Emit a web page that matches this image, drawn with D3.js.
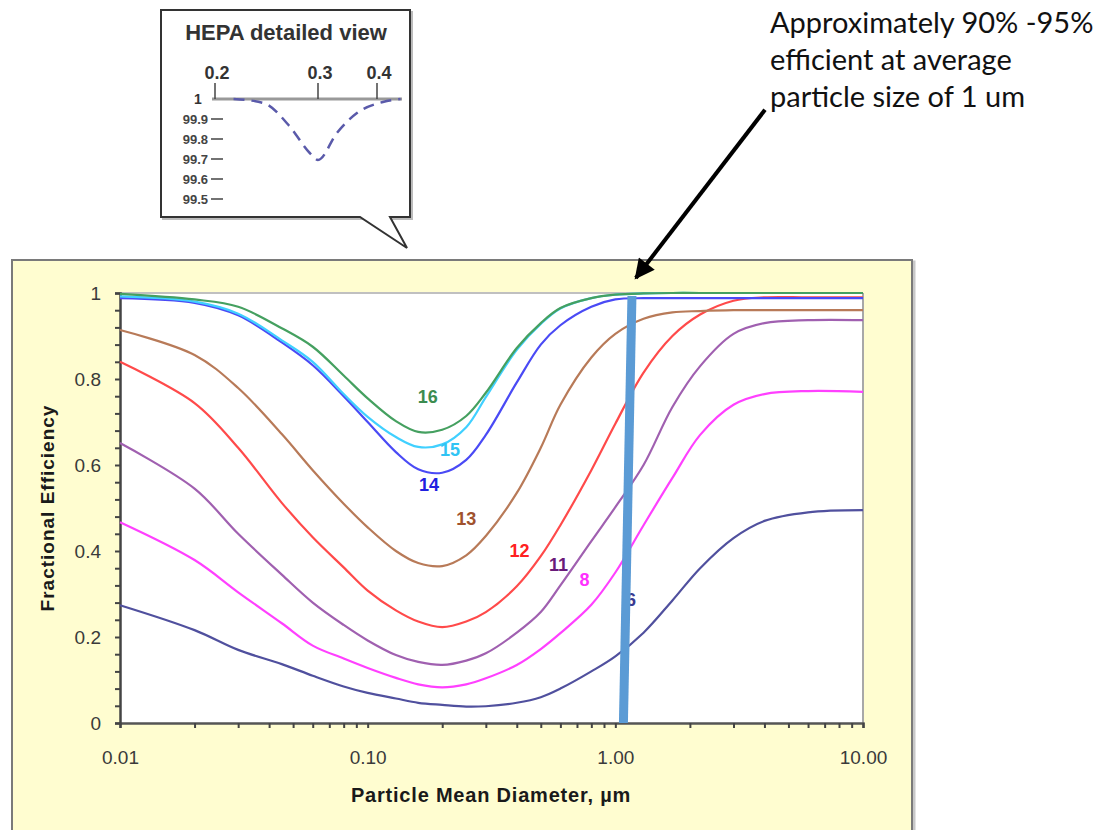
<!DOCTYPE html>
<html>
<head>
<meta charset="utf-8">
<script src="https://cdn.jsdelivr.net/npm/d3@7"></script>
<style>
  body { margin: 0; background: #ffffff; }
  svg  { display: block; }
  .tick text { font-family: Arial, "Liberation Sans", sans-serif; fill: #3a3a3a; }
</style>
</head>
<body>
<div id="graph"></div>
<script>
//
// Data
//
var diameters = [0.01, 0.02, 0.03, 0.045, 0.06, 0.08, 0.1, 0.13, 0.16, 0.2, 0.25, 0.3,
                 0.4, 0.5, 0.6, 0.8, 1.0, 1.3, 1.7, 2.2, 3, 4, 6, 10];

var merv16 = [0.998, 0.985, 0.968, 0.918, 0.875, 0.808, 0.755, 0.702, 0.677, 0.682, 0.714, 0.768,
              0.872, 0.930, 0.965, 0.988, 0.996, 0.999, 1.0, 1.0, 1.0, 1.0, 1.0, 1.0];
var merv15 = [0.992, 0.980, 0.952, 0.890, 0.840, 0.765, 0.712, 0.665, 0.642, 0.648, 0.688, 0.758,
              0.868, 0.928, 0.964, 0.988, 0.996, 0.999, 1.0, 1.0, 1.0, 1.0, 1.0, 1.0];
var merv14 = [0.988, 0.977, 0.948, 0.885, 0.832, 0.760, 0.700, 0.630, 0.590, 0.582, 0.612, 0.670,
              0.792, 0.880, 0.925, 0.968, 0.985, 0.988, 0.988, 0.988, 0.988, 0.988, 0.988, 0.988];
var merv13 = [0.914, 0.856, 0.779, 0.672, 0.588, 0.510, 0.455, 0.400, 0.372, 0.365, 0.390, 0.435,
              0.535, 0.640, 0.740, 0.850, 0.905, 0.940, 0.955, 0.958, 0.960, 0.960, 0.960, 0.960];
var merv12 = [0.840, 0.744, 0.640, 0.512, 0.432, 0.362, 0.308, 0.262, 0.236, 0.223, 0.236, 0.258,
              0.318, 0.388, 0.460, 0.588, 0.696, 0.815, 0.900, 0.950, 0.982, 0.990, 0.990, 0.990];
var merv11 = [0.651, 0.545, 0.440, 0.345, 0.280, 0.228, 0.192, 0.158, 0.142, 0.135, 0.145, 0.162,
              0.210, 0.258, 0.320, 0.423, 0.502, 0.600, 0.735, 0.830, 0.905, 0.930, 0.937, 0.937];
var merv8  = [0.467, 0.379, 0.304, 0.232, 0.180, 0.150, 0.128, 0.105, 0.090, 0.083, 0.090, 0.104,
              0.135, 0.172, 0.209, 0.275, 0.350, 0.460, 0.570, 0.670, 0.740, 0.765, 0.772, 0.770];
var merv6  = [0.274, 0.216, 0.170, 0.137, 0.110, 0.085, 0.070, 0.057, 0.047, 0.042, 0.038, 0.039,
              0.047, 0.060, 0.080, 0.120, 0.155, 0.210, 0.285, 0.360, 0.430, 0.470, 0.490, 0.495];

var seriesNames  = ['16', '15', '14', '13', '12', '11', '8', '6'];
var seriesValues = [merv16, merv15, merv14, merv13, merv12, merv11, merv8, merv6];
var lineColours  = ['#45a060', '#40d0ff', '#4a4af5', '#b87a58', '#ff4a4a', '#a060b0', '#ff40ff', '#50509e'];
var labelColours = ['#3c8c50', '#30c4f4', '#2020e0', '#a0522d', '#ff2020', '#6a1b7a', '#ff30ff', '#3a3a90'];
// label anchor points (diameter, efficiency)
var labelAt = [[0.175, 0.745], [0.215, 0.62], [0.177, 0.54], [0.25, 0.46],
               [0.41, 0.385], [0.59, 0.353], [0.75, 0.318], [1.156, 0.272]];

var xTickMajor  = [0.01, 0.1, 1, 10];
var xTickLabels = ['0.01', '0.10', '1.00', '10.00'];
var yTickMajor  = [0, 0.2, 0.4, 0.6, 0.8, 1];
var yTickLabels = ['0', '0.2', '0.4', '0.6', '0.8', '1'];

// HEPA inset
var hepaTicks      = [0.2, 0.3, 0.4];
var hepaTickLabels = ['0.2', '0.3', '0.4'];
var hepaYLabels    = ['99.9', '99.8', '99.7', '99.6', '99.5'];
var hepaYValues    = [99.9, 99.8, 99.7, 99.6, 99.5];
var hepaD   = [0.218, 0.247, 0.273, 0.292, 0.300, 0.332, 0.366, 0.410, 0.440];
var hepaEff = [100.0, 99.98, 99.86, 99.73, 99.695, 99.83, 99.93, 99.985, 100.0];

// overlay annotation
var barPoints   = [[1.078, 0], [1.167, 0.993]];
var arrowPoints = [[4.02, 1.426], [1.21, 1.035]];
var noteLines   = ['Approximately 90% -95%', 'efficient at average', 'particle size of 1 um'];


//
// Layout
//
var W = 1098, H = 830;
var plot = { left: 120, right: 863, top: 293, bottom: 723 };
var fontArial = 'Arial, "Liberation Sans", sans-serif';

var svg = d3.select('div#graph')
            .append('svg')
            .attr('width', W)
            .attr('height', H);

var xScale = d3.scaleLog()
               .domain([0.01, 10])
               .range([plot.left, plot.right]);

var yScale = d3.scaleLinear()
               .domain([0, 1])
               .range([plot.bottom, plot.top]);

// outer yellow panel
svg.append('rect')
   .attr('x', 14).attr('y', 262)
   .attr('width', 900).attr('height', 570)
   .attr('fill', 'none')
   .attr('stroke', '#c8c8c8')
   .attr('stroke-width', 3);

svg.append('rect')
   .attr('x', 12).attr('y', 260)
   .attr('width', 900).attr('height', 572)
   .attr('fill', '#fffdd0')
   .attr('stroke', '#7a7a7a')
   .attr('stroke-width', 2);

// plot area
svg.append('rect')
   .attr('x', plot.left).attr('y', plot.top)
   .attr('width', plot.right - plot.left)
   .attr('height', plot.bottom - plot.top)
   .attr('fill', '#ffffff');

svg.append('line')
   .attr('x1', plot.left).attr('x2', plot.right)
   .attr('y1', plot.top).attr('y2', plot.top)
   .attr('stroke', '#c0c0c0').attr('stroke-width', 2);

svg.append('line')
   .attr('x1', plot.right).attr('x2', plot.right)
   .attr('y1', plot.top).attr('y2', plot.bottom)
   .attr('stroke', '#a8a8a8').attr('stroke-width', 2);

// axes
var xMinor = [];
[0.01, 0.1, 1].forEach(function (p) {
    for (var k = 1; k <= 9; k++) xMinor.push(p * k);
});
xMinor.push(10);

var xAxis = d3.axisBottom(xScale)
              .tickValues(xMinor)
              .tickSize(5)
              .tickPadding(23)
              .tickFormat(function (d) {
                  var i = xTickMajor.findIndex(function (m) { return Math.abs(m - d) < 1e-9; });
                  return i >= 0 ? xTickLabels[i] : '';
              });

var yAxis = d3.axisLeft(yScale)
              .tickValues(d3.range(0, 26).map(function (i) { return i * 0.04; }))
              .tickSize(5)
              .tickPadding(14)
              .tickFormat(function (d) {
                  var i = yTickMajor.findIndex(function (m) { return Math.abs(m - d) < 1e-9; });
                  return i >= 0 ? yTickLabels[i] : '';
              });

var gx = svg.append('g')
            .attr('class', 'x axis')
            .attr('transform', 'translate(0,' + plot.bottom + ')')
            .call(xAxis);
gx.select('.domain').attr('stroke', '#555').attr('stroke-width', 2.5);
gx.selectAll('.tick line').attr('stroke', '#444').attr('stroke-width', 2);
gx.selectAll('.tick text').style('font-size', '19px');

var gy = svg.append('g')
            .attr('class', 'y axis')
            .attr('transform', 'translate(' + plot.left + ',0)')
            .call(yAxis);
gy.select('.domain').attr('stroke', '#444').attr('stroke-width', 2.5);
gy.selectAll('.tick line').attr('stroke', '#444').attr('stroke-width', 2);
gy.selectAll('.tick text').style('font-size', '19px');

// axis titles
svg.append('text')
   .attr('x', 491).attr('y', 802)
   .style('text-anchor', 'middle')
   .style('font-family', fontArial)
   .style('font-weight', 'bold')
   .style('font-size', '20px')
   .style('letter-spacing', '0.8px')
   .attr('fill', '#1a1a1a')
   .text('Particle Mean Diameter, µm');

svg.append('text')
   .attr('transform', 'translate(54,508) rotate(-90)')
   .style('text-anchor', 'middle')
   .style('font-family', fontArial)
   .style('font-weight', 'bold')
   .style('font-size', '19px')
   .style('letter-spacing', '1px')
   .attr('fill', '#1a1a1a')
   .text('Fractional Efficiency');

// curves
var line = d3.line()
             .x(function (d) { return xScale(d[0]); })
             .y(function (d) { return yScale(d[1]); })
             .curve(d3.curveCatmullRom.alpha(0.5));

// draw lowest first so the top curves sit on top
for (var s = seriesNames.length - 1; s >= 0; s--)
{
    var pts = diameters.map(function (d, i) { return [d, seriesValues[s][i]]; });
    svg.append('path')
       .datum(pts)
       .attr('class', 'merv' + seriesNames[s])
       .attr('fill', 'none')
       .attr('stroke', lineColours[s])
       .attr('stroke-width', 2.2)
       .attr('d', line);
}

for (var s = 0; s < seriesNames.length; s++)
{
    svg.append('text')
       .attr('x', xScale(labelAt[s][0]))
       .attr('y', yScale(labelAt[s][1]))
       .style('text-anchor', 'middle')
       .style('font-family', fontArial)
       .style('font-weight', 'bold')
       .style('font-size', '18px')
       .attr('fill', labelColours[s])
       .text(seriesNames[s]);
}

// overlay: thick blue bar at ~1 um
svg.append('line')
   .attr('x1', xScale(barPoints[0][0])).attr('y1', yScale(barPoints[0][1]))
   .attr('x2', xScale(barPoints[1][0])).attr('y2', yScale(barPoints[1][1]))
   .attr('stroke', '#5b9bd5')
   .attr('stroke-width', 9);

// arrow + note
svg.append('defs')
   .append('marker')
   .attr('id', 'head')
   .attr('viewBox', '0 0 10 10')
   .attr('refX', 9).attr('refY', 5)
   .attr('markerWidth', 6).attr('markerHeight', 5)
   .attr('markerUnits', 'strokeWidth')
   .attr('orient', 'auto')
   .append('path')
   .attr('d', 'M0,0 L10,5 L0,10 Z')
   .attr('fill', '#000');

svg.append('line')
   .attr('x1', xScale(arrowPoints[0][0])).attr('y1', yScale(arrowPoints[0][1]))
   .attr('x2', xScale(arrowPoints[1][0])).attr('y2', yScale(arrowPoints[1][1]))
   .attr('stroke', '#000')
   .attr('stroke-width', 4)
   .attr('marker-end', 'url(#head)');

noteLines.forEach(function (t, i) {
    svg.append('text')
       .attr('x', 770).attr('y', 33 + i * 37)
       .style('font-family', 'Lato, "Open Sans", sans-serif')
       .style('font-size', '29px')
       .attr('fill', '#111')
       .text(t);
});

//
// HEPA detailed view (callout)
//
var box = { x: 161, y: 10, w: 249, h: 207 };
var inset = svg.append('g');

inset.append('rect')
     .attr('x', box.x + 2).attr('y', box.y + 2)
     .attr('width', box.w).attr('height', box.h)
     .attr('fill', 'none').attr('stroke', '#bbb').attr('stroke-width', 2);

inset.append('path')
     .attr('d', 'M' + box.x + ',' + box.y +
                ' h' + box.w + ' v' + box.h +
                ' H390 L407,248 L360,' + (box.y + box.h) +
                ' H' + box.x + ' Z')
     .attr('fill', '#ffffff')
     .attr('stroke', '#333')
     .attr('stroke-width', 2);

inset.append('text')
     .attr('x', 286).attr('y', 40)
     .style('text-anchor', 'middle')
     .style('font-family', fontArial)
     .style('font-weight', 'bold')
     .style('font-size', '22px')
     .attr('fill', '#333')
     .text('HEPA detailed view');

var hx = d3.scaleLinear().domain([0.2, 0.3, 0.4]).range([215, 318, 377]);
var hy = d3.scaleLinear().domain([99.5, 100]).range([199, 99]);

inset.append('line')
     .attr('x1', 212).attr('x2', 402)
     .attr('y1', hy(100)).attr('y2', hy(100))
     .attr('stroke', '#999').attr('stroke-width', 3);

hepaTicks.forEach(function (d, i) {
    inset.append('line')
         .attr('x1', hx(d)).attr('x2', hx(d))
         .attr('y1', hy(100) - 16).attr('y2', hy(100))
         .attr('stroke', '#444').attr('stroke-width', 1.5);
    inset.append('text')
         .attr('x', hx(d) + 2).attr('y', 79)
         .style('text-anchor', 'middle')
         .style('font-family', fontArial)
         .style('font-weight', 'bold')
         .style('font-size', '18px')
         .attr('fill', '#333')
         .text(hepaTickLabels[i]);
});

inset.append('text')
     .attr('x', 198).attr('y', hy(100) + 5)
     .style('text-anchor', 'middle')
     .style('font-family', fontArial)
     .style('font-weight', 'bold')
     .style('font-size', '14px')
     .attr('fill', '#333')
     .text('1');

hepaYValues.forEach(function (v, i) {
    inset.append('text')
         .attr('x', 208).attr('y', hy(v) + 5)
         .style('text-anchor', 'end')
         .style('font-family', fontArial)
         .style('font-weight', 'bold')
         .style('font-size', '13px')
         .attr('fill', '#444')
         .text(hepaYLabels[i]);
    inset.append('line')
         .attr('x1', 211).attr('x2', 223)
         .attr('y1', hy(v)).attr('y2', hy(v))
         .attr('stroke', '#444').attr('stroke-width', 1.5);
});

var hline = d3.line()
              .x(function (d) { return hx(d[0]); })
              .y(function (d) { return hy(d[1]); })
              .curve(d3.curveMonotoneX);

inset.append('path')
     .datum(hepaD.map(function (d, i) { return [d, hepaEff[i]]; }))
     .attr('fill', 'none')
     .attr('stroke', '#5a5aaa')
     .attr('stroke-width', 2.5)
     .attr('stroke-dasharray', '11,7')
     .attr('d', hline);
</script>
</body>
</html>
